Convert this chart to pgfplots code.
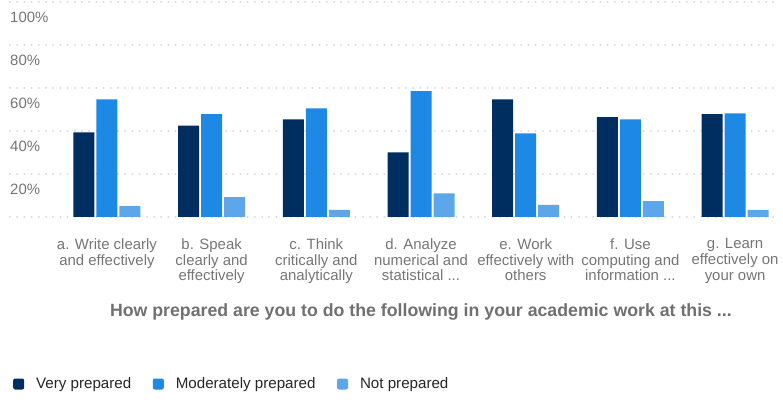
\documentclass[border=0pt]{standalone}
\usepackage{pgfplots}
\pgfplotsset{compat=1.18}
\usepackage{pgfplotstable}
\usepackage{fontspec}
\setmainfont{Liberation Sans}
\definecolor{cvery}{RGB}{0,46,97}
\definecolor{cmod}{RGB}{30,136,229}
\definecolor{cnot}{RGB}{94,166,234}
\definecolor{tgray}{RGB}{117,117,117}
\definecolor{ttitle}{RGB}{112,112,112}
\definecolor{gridc}{RGB}{212,212,212}
\pgfplotstableread{
x Very Mod Not
0 39.4 54.7 5.1
1 42.5 47.8 9.2
2 45.4 50.5 3.3
3 30.1 58.5 11.0
4 54.7 38.9 5.6
5 46.5 45.4 7.4
6 47.8 48.2 3.3
}\datatable
\begin{document}
\begin{tikzpicture}
\path[use as bounding box] (0,0) rectangle (783bp,400bp);
\begin{axis}[
  at={(10bp,183bp)}, anchor=south west,
  scale only axis, width=768bp, height=215bp,
  xmin=-0.926, xmax=6.41, ymin=0, ymax=100,
  enlarge y limits=false,
  ybar=2bp, bar width=21bp,
  axis line style={draw=none},
  major tick style={draw=none},
  ymajorgrids,
  major grid style={draw=gridc, line width=2bp, line cap=round, dash pattern=on 0bp off 7.2bp},
  ytick={0,20,40,60,80,100},
  yticklabels={,20\%,40\%,60\%,80\%,100\%},
  yticklabel style={anchor=north west, inner sep=0pt, yshift=-10bp, text=tgray, font=\fontsize{15}{16.5}\selectfont},
  xtick=data,
  xticklabels={{a. Write clearly\\and effectively},{b. Speak\\clearly and\\effectively},{c. Think\\critically and\\analytically},{d. Analyze\\numerical and\\statistical .{}.{}.},{e. Work\\effectively with\\others},{f. Use\\computing and\\information .{}.{}.},{g. Learn\\effectively on\\your own}},
  xticklabel style={align=center, anchor=north, inner sep=0pt, yshift=-17bp, text=tgray, font=\fontsize{15}{15.8}\selectfont},
  xlabel={How prepared are you to do the following in your academic work at this .{}.{}.},
  xlabel style={at={(axis description cs:0.535,0)}, anchor=base, yshift=-99bp, text=ttitle, font=\fontsize{17.8}{20}\selectfont\bfseries},
  legend columns=3,
  legend style={at={(axis description cs:0,0)}, anchor=west, xshift=3bp, yshift=-167bp, draw=none, fill=none, inner sep=0pt,
    nodes={inner sep=0pt, text=black!85, font=\fontsize{15.2}{16.5}\selectfont},
    /tikz/every odd column/.append style={column sep=12bp},
    /tikz/every even column/.append style={column sep=21.5bp}},
  legend image code/.code={\fill[#1, rounded corners=2bp] (0bp,-5.5bp) rectangle (11bp,5.5bp);},
  clip=false,
]
\addplot[fill=cvery, draw=none] table[x=x, y=Very] {\datatable};
\addplot[fill=cmod, draw=none] table[x=x, y=Mod] {\datatable};
\addplot[fill=cnot, draw=none] table[x=x, y=Not] {\datatable};
\legend{Very prepared, Moderately prepared, Not prepared}
\end{axis}
\end{tikzpicture}
\end{document}
